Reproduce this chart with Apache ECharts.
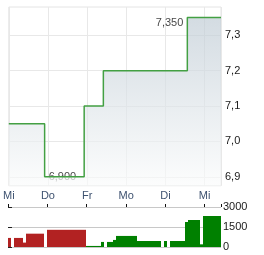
<!DOCTYPE html>
<html><head><meta charset="utf-8">
<script src="https://cdn.jsdelivr.net/npm/echarts@6/dist/echarts.min.js"></script>
<style>html,body{margin:0;padding:0;background:#fff}#c{width:264px;height:255px}</style>
</head><body><div id="c"></div>
<script>
// day labels (trading days), x in day units from first Wednesday
var dayLabels = ['Mi','Do','Fr','Mo','Di','Mi'];
var xEnd = 5.42;
// price steps: [day position, price]
var priceTimes = [0, 0.915, 1.925, 2.415, 4.56, 5.42];
var priceValues = [7.05, 6.90, 7.10, 7.20, 7.35, 7.35];
var priceTicks = [6.9, 7.0, 7.1, 7.2, 7.3];
var annotTimes = [0.915, 4.56];
var annotValues = [6.90, 7.35];
// volume per time slot
var volDown = [680,null,680,680,680,330,1000,1000,1000,1000,1000,1000,null,
  1290,1290,1290,1290,1290,1290,1290,1290,1290,1290,1290,1290,1290];
var volUp = [80,80,80,80,80,380,null,380,380,530,830,830,830,830,830,830,830,
  450,450,450,450,450,450,450,450,null,450,null,450,450,450,450,450,
  1875,2025,2025,2025,2025,200,2325,2325,2325,2325,2325,2325];
var volTicks = [0, 1500, 3000];

var nSlots = volDown.length + volUp.length;
var slots = []; for (var i = 0; i < nSlots; i++) slots.push(i);
var redSeries = [], greenSeries = [];
for (var i = 0; i < nSlots; i++) {
  redSeries.push(i < volDown.length ? volDown[i] : null);
  greenSeries.push(i >= volDown.length ? volUp[i - volDown.length] : null);
}
var priceData = priceTimes.map(function (t, i) { return [t, priceValues[i]]; });
var annotData = annotTimes.map(function (t, i) { return [t, annotValues[i]]; });
var fmtPrice = function (v) { return String(v.toFixed(1)).replace('.', ','); };
var txt = { fontFamily: 'Liberation Sans, Arial, sans-serif', fontSize: 11 };

var chart = echarts.init(document.getElementById('c'), null, { renderer: 'canvas' });
chart.setOption({
  animation: false,
  grid: [
    { left: 8, right: 43, top: 7, height: 178.7, show: true, borderColor: '#e4e4e4', borderWidth: 1 },
    { left: 8, right: 43, top: 207, height: 40 }
  ],
  xAxis: [
    { type: 'value', gridIndex: 0, min: 0, max: xEnd, interval: 1,
      axisLine: { show: false }, axisTick: { show: false },
      splitLine: { show: true, lineStyle: { color: '#e8e8e8', width: 1 } },
      axisLabel: Object.assign({ color: '#3e5270', margin: 5, showMaxLabel: false,
        formatter: function (v) { var k = Math.round(v); return (Math.abs(v - k) < 1e-6 && dayLabels[k]) ? dayLabels[k] : ''; } }, txt) },
    { type: 'category', gridIndex: 1, data: slots, boundaryGap: true, show: false },
    { type: 'value', gridIndex: 1, position: 'top', min: 0, max: xEnd, interval: 1,
      axisLine: { show: false }, axisLabel: { show: false }, splitLine: { show: false },
      axisTick: { show: true, length: 3, inside: false, lineStyle: { color: '#111', width: 1 } } }
  ],
  yAxis: [
    { type: 'value', gridIndex: 0, position: 'right', min: 6.875, max: 7.38,
      axisLine: { show: false },
      axisTick: { show: false, customValues: priceTicks },
      splitLine: { show: true, lineStyle: { color: '#e8e8e8', width: 1 } },
      axisLabel: Object.assign({ color: '#1a1a1a', margin: 4, customValues: priceTicks, formatter: fmtPrice }, txt) },
    { type: 'value', gridIndex: 1, position: 'right', min: 0, max: 3000, interval: 1500,
      axisLine: { show: false },
      axisTick: { show: true, length: 4, lineStyle: { color: '#222' } },
      splitLine: { show: true, lineStyle: { color: '#c8c8c8', width: 1 } },
      axisLabel: Object.assign({ color: '#1a1a1a', margin: 2, formatter: function (v) { return String(v); } }, txt) }
  ],
  series: [
    { type: 'line', xAxisIndex: 0, yAxisIndex: 0, data: priceData, step: 'end',
      symbol: 'none', lineStyle: { color: '#43a043', width: 1.5 },
      areaStyle: { origin: 'start', color: new echarts.graphic.LinearGradient(0, 0, 0, 1, [
        { offset: 0, color: '#c0ccd5' }, { offset: 1, color: '#fafbfb' }]) } },
    { type: 'scatter', xAxisIndex: 0, yAxisIndex: 0, data: annotData, symbolSize: 0,
      label: Object.assign({ show: true, color: '#111', distance: 4,
        formatter: function (p) { return p.value[1].toFixed(3).replace('.', ','); },
        position: 'right' }, txt),
      labelLayout: function (p) { return p.dataIndex === 1 ? { x: p.rect.x - 4, align: 'right' } : {}; } },
    { type: 'bar', xAxisIndex: 1, yAxisIndex: 1, data: redSeries, barCategoryGap: 0, barGap: '-100%',
      itemStyle: { color: '#b22222' } },
    { type: 'bar', xAxisIndex: 1, yAxisIndex: 1, data: greenSeries, barCategoryGap: 0, barGap: '-100%',
      itemStyle: { color: '#008000' } }
  ]
});
</script></body></html>
